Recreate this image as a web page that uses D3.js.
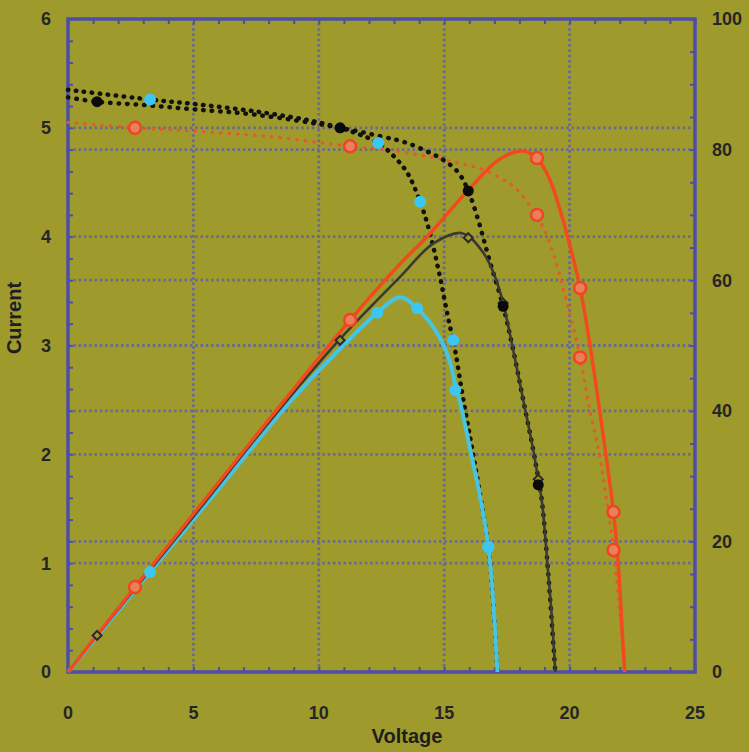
<!DOCTYPE html>
<html>
<head>
<meta charset="utf-8">
<script src="https://cdn.jsdelivr.net/npm/d3@7"></script>
<style>
  body { margin: 0; background: #9f9a2c; }
  svg { display: block; }
</style>
</head>
<body>
<script>
// Current-voltage (dotted) and power-voltage (solid) curves, three cells
const blackIV = [[0,5.28],[1.16,5.24],[3,5.21],[5,5.17],[7.5,5.12],[10.85,5.0],[12.5,4.92],[13.4,4.87],[14.44,4.77],[15.0,4.7],[15.56,4.59],[15.96,4.42],[16.36,4.15],[16.76,3.82],[17.35,3.36],[17.75,2.96],[18.15,2.5],[18.55,2.04],[18.75,1.78],[18.9,1.56],[19.15,0.9],[19.43,0]];
const cyanIV = [[0,5.35],[3.27,5.26],[5,5.22],[7.5,5.15],[10,5.05],[11.5,4.95],[12.37,4.86],[12.9,4.76],[13.52,4.59],[14.04,4.32],[14.4,4.06],[14.84,3.62],[15.16,3.25],[15.44,2.95],[15.72,2.56],[16.04,2.15],[16.32,1.78],[16.56,1.45],[16.76,1.15],[16.95,0.65],[17.12,0]];
const redIV = [[0,5.05],[2.67,5.0],[5,4.97],[8,4.92],[11.25,4.83],[13,4.79],[15.5,4.68],[16.5,4.62],[17.23,4.54],[17.83,4.45],[18.67,4.2],[19.0,4.06],[19.4,3.81],[19.75,3.52],[20.0,3.3],[20.42,2.89],[20.75,2.47],[21.15,2.04],[21.45,1.62],[21.75,1.12],[22.0,0.55],[22.2,0]];

const blackP = [[0,0],[1.16,5.6],[5,23.8],[8,38.2],[10.85,51],[13.24,60.5],[14.56,65.6],[15.72,67.2],[16.56,64.2],[17.03,60.5],[17.35,56.5],[17.75,49.3],[18.15,41.7],[18.55,34],[18.75,29.5],[18.9,26],[19.15,15],[19.3,8],[19.43,0]];
const cyanP = [[0,0],[3.27,15.3],[6,28],[9,42],[10.85,49.5],[12.33,55],[13.24,57.4],[13.92,55.7],[14.72,51.9],[15.23,47.5],[15.44,44],[15.64,41.2],[16.04,34],[16.43,26.8],[16.76,19.1],[16.95,11],[17.12,0]];
const redP = [[0,0],[2.67,13.0],[5,24.2],[8,38.6],[11.25,53.9],[13.24,62.5],[14.4,67],[15.96,73.8],[17.2,78.5],[18.1,79.8],[18.7,78.7],[19.2,75.5],[19.6,71],[20.0,65.5],[20.42,58.8],[20.8,50.4],[21.2,40],[21.6,29],[21.75,24.5],[21.95,16],[22.1,6],[22.2,0]];

// marker points
const blackIVMarks = [[1.16,5.24],[10.85,5.0],[15.96,4.42],[17.35,3.36],[18.75,1.72]];
const blackPMarks = [[1.16,5.6],[10.85,50.8],[15.96,66.5],[17.35,56.5],[18.75,29.5]];
const cyanIVMarks = [[3.27,5.26],[12.37,4.86],[14.04,4.32],[15.36,3.05],[16.76,1.15]];
const cyanPMarks = [[3.27,15.3],[12.33,55],[13.92,55.7],[15.44,43.2],[16.76,19.1]];
const redIVMarks = [[2.67,5.0],[11.25,4.83],[18.7,4.2],[20.42,2.89],[21.75,1.12]];
const redPMarks = [[2.67,13.0],[11.25,53.9],[18.7,78.7],[20.42,58.8],[21.75,24.5]];

const xTicks = [0, 5, 10, 15, 20, 25];
const yTicks = [0, 1, 2, 3, 4, 5, 6];
const pTicks = [0, 20, 40, 60, 80, 100];

const width = 749;
const height = 752;
const margin = { top: 19, bottom: 80, left: 68, right: 54 };

const svg = d3
  .select("body")
  .append("svg")
  .attr("width", width)
  .attr("height", height);

svg.append("rect").attr("width", width).attr("height", height).attr("fill", "#9f9a2c");

const x = d3.scaleLinear().domain([0, 25]).range([margin.left, width - margin.right]);
const y = d3.scaleLinear().domain([0, 6]).range([height - margin.bottom, margin.top]);
const yP = d3.scaleLinear().domain([0, 100]).range([height - margin.bottom, margin.top]);

const gridColor = "#6a6a90";
const frameColor = "#4d4dab";
const font = "'Liberation Sans', Arial, sans-serif";

// grid
const grid = svg.append("g").attr("stroke", gridColor).attr("stroke-width", 2.8).attr("stroke-dasharray", "2.5,2.8");
grid.selectAll(".gx").data([5, 10, 15, 20]).join("line").attr("class", "gx")
  .attr("x1", d => x(d)).attr("x2", d => x(d))
  .attr("y1", y(0)).attr("y2", y(6));
grid.selectAll(".gy").data([1, 2, 3, 4, 5]).join("line").attr("class", "gy")
  .attr("x1", x(0)).attr("x2", x(25))
  .attr("y1", d => y(d)).attr("y2", d => y(d));
grid.selectAll(".gp").data([20, 40, 60, 80]).join("line").attr("class", "gp")
  .attr("x1", x(0)).attr("x2", x(25))
  .attr("y1", d => yP(d)).attr("y2", d => yP(d));

// minor ticks (inside)
const tickG = svg.append("g");
const minor = (axis, pos, n) =>
  tickG.append("g").attr("transform", pos).call(axis.ticks(n).tickSize(-5).tickFormat(""))
    .call(g => g.select(".domain").remove())
    .call(g => g.selectAll("line").attr("stroke", frameColor).attr("stroke-width", 2));
minor(d3.axisBottom(x), `translate(0,${y(0)})`, 25);
minor(d3.axisTop(x), `translate(0,${y(6)})`, 25);
minor(d3.axisLeft(y), `translate(${x(0)},0)`, 30);
minor(d3.axisRight(yP), `translate(${x(25)},0)`, 20);

// frame
svg.append("rect")
  .attr("x", x(0)).attr("y", y(6))
  .attr("width", x(25) - x(0)).attr("height", y(0) - y(6))
  .attr("fill", "none").attr("stroke", frameColor).attr("stroke-width", 3.5);

// curves
const curveType = d3.curveCatmullRom.alpha(0.5);
const lineI = d3.line().x(d => x(d[0])).y(d => y(d[1])).curve(curveType);
const lineP = d3.line().x(d => x(d[0])).y(d => yP(d[1])).curve(curveType);

const curves = svg.append("g").attr("fill", "none");
curves.append("path").datum(redIV).attr("d", lineI)
  .attr("stroke", "#e8582a").attr("stroke-width", 3.2).attr("stroke-linecap", "round").attr("stroke-dasharray", "0.5,8");
curves.append("path").datum(blackIV).attr("d", lineI)
  .attr("stroke", "#111").attr("stroke-width", 4.5).attr("stroke-linecap", "round").attr("stroke-dasharray", "0.5,8");
curves.append("path").datum(cyanIV).attr("d", lineI)
  .attr("stroke", "#111").attr("stroke-width", 4.5).attr("stroke-linecap", "round").attr("stroke-dasharray", "0.5,7.5");
curves.append("path").datum(cyanP).attr("d", lineP)
  .attr("stroke", "#46c4e2").attr("stroke-width", 4);
curves.append("path").datum(blackP).attr("d", lineP)
  .attr("stroke", "#3a3a30").attr("stroke-width", 2.6);
curves.append("path").datum(redP).attr("d", lineP)
  .attr("stroke", "#f24a1e").attr("stroke-width", 3.5);

// markers
const marks = svg.append("g");
marks.selectAll(".bd").data(blackPMarks).join("path").attr("class", "bd")
  .attr("d", d3.symbol(d3.symbolSquare, 40))
  .attr("transform", d => `translate(${x(d[0])},${yP(d[1])}) rotate(45)`)
  .attr("fill", "#9f9a2c").attr("stroke", "#2a2a2a").attr("stroke-width", 2);
marks.selectAll(".bc").data(blackIVMarks).join("circle").attr("class", "bc")
  .attr("cx", d => x(d[0])).attr("cy", d => y(d[1])).attr("r", 5.5).attr("fill", "#0a0a0a");
marks.selectAll(".cc").data(cyanIVMarks).join("circle").attr("class", "cc")
  .attr("cx", d => x(d[0])).attr("cy", d => y(d[1])).attr("r", 6).attr("fill", "#3cc6f2");
marks.selectAll(".cp").data(cyanPMarks).join("circle").attr("class", "cp")
  .attr("cx", d => x(d[0])).attr("cy", d => yP(d[1])).attr("r", 6).attr("fill", "#3cc6f2");
marks.selectAll(".rc").data(redIVMarks).join("circle").attr("class", "rc")
  .attr("cx", d => x(d[0])).attr("cy", d => y(d[1])).attr("r", 6)
  .attr("fill", "#e8805a").attr("stroke", "#f04422").attr("stroke-width", 2.5);
marks.selectAll(".rp").data(redPMarks).join("circle").attr("class", "rp")
  .attr("cx", d => x(d[0])).attr("cy", d => yP(d[1])).attr("r", 6)
  .attr("fill", "#e8805a").attr("stroke", "#f04422").attr("stroke-width", 2.5);

// tick labels
const labels = svg.append("g")
  .attr("font-family", font).attr("font-weight", "bold").attr("font-size", 18).attr("fill", "#262626");
labels.selectAll(".lx").data(xTicks).join("text").attr("class", "lx")
  .attr("x", d => x(d)).attr("y", y(0) + 47)
  .attr("text-anchor", "middle").text(d => d);
labels.selectAll(".ly").data(yTicks).join("text").attr("class", "ly")
  .attr("x", x(0) - 22).attr("y", d => y(d)).attr("dy", "0.36em")
  .attr("text-anchor", "middle").text(d => d);
labels.selectAll(".lp").data(pTicks).join("text").attr("class", "lp")
  .attr("x", x(25) + 17).attr("y", d => yP(d)).attr("dy", "0.36em")
  .attr("text-anchor", "start").text(d => d);

// axis titles
svg.append("text")
  .attr("x", 407).attr("y", 743)
  .attr("text-anchor", "middle")
  .attr("font-family", font).attr("font-weight", "bold").attr("font-size", 20).attr("fill", "#1e1e1e")
  .text("Voltage");
svg.append("text")
  .attr("transform", "translate(21,318) rotate(-90)")
  .attr("text-anchor", "middle")
  .attr("font-family", font).attr("font-weight", "bold").attr("font-size", 20).attr("fill", "#1e1e1e")
  .text("Current");
</script>
</body>
</html>
